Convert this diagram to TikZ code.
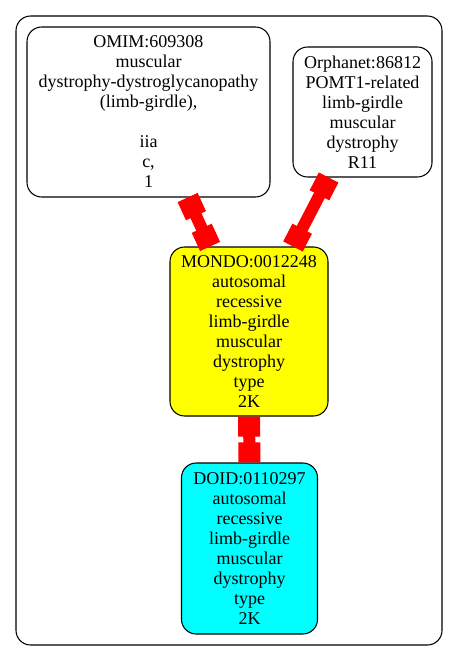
\documentclass[tikz,border=0pt]{standalone}
\usepackage{fontspec}
\setmainfont{Liberation Serif}
\usepackage{tikz}
\usetikzlibrary{arrows.meta}
\definecolor{mondoyellow}{RGB}{255,255,0}
\definecolor{doidcyan}{RGB}{0,255,255}
\definecolor{linkred}{RGB}{255,0,0}

\tikzset{
  term/.style={draw=black, line width=0.8pt, rounded corners=11pt, align=center,
    inner sep=0pt, font=\fontsize{13.5pt}{15pt}\selectfont},
  link/.style={draw=linkred, line width=9pt,
    {Rectangle[length=15pt,width=16.5pt]}-{Rectangle[length=15pt,width=16.5pt]}}
}

\begin{document}
\begin{tikzpicture}[x=0.75pt, y=-0.75pt]
\useasboundingbox (0,0) rectangle (459,663);
\draw[black, line width=0.8pt, rounded corners=11pt] (16,16) rectangle (442,645);
\node[term, minimum width=182.25pt, minimum height=127.5pt] (omim) at (148.5,112)
  {OMIM:609308\\muscular\\dystrophy-dystroglycanopathy\\(limb-girdle),\\ \mbox{}\\iia\\c,\\1};
\node[term, minimum width=104.25pt, minimum height=97.5pt] (orpha) at (362.5,112)
  {Orphanet:86812\\POMT1-related\\limb-girdle\\muscular\\dystrophy\\R11};
\node[term, fill=mondoyellow, minimum width=118.5pt, minimum height=126.75pt] (mondo) at (249,331.5)
  {MONDO:0012248\\autosomal\\recessive\\limb-girdle\\muscular\\dystrophy\\type\\2K};
\node[term, fill=doidcyan, minimum width=102pt, minimum height=128.25pt] (doid) at (249.5,548.5)
  {DOID:0110297\\autosomal\\recessive\\limb-girdle\\muscular\\dystrophy\\type\\2K};
\draw[link] (omim) -- (mondo);
\draw[link] (orpha) -- (mondo);
\draw[link] (mondo) -- (doid);
\end{tikzpicture}
\end{document}
